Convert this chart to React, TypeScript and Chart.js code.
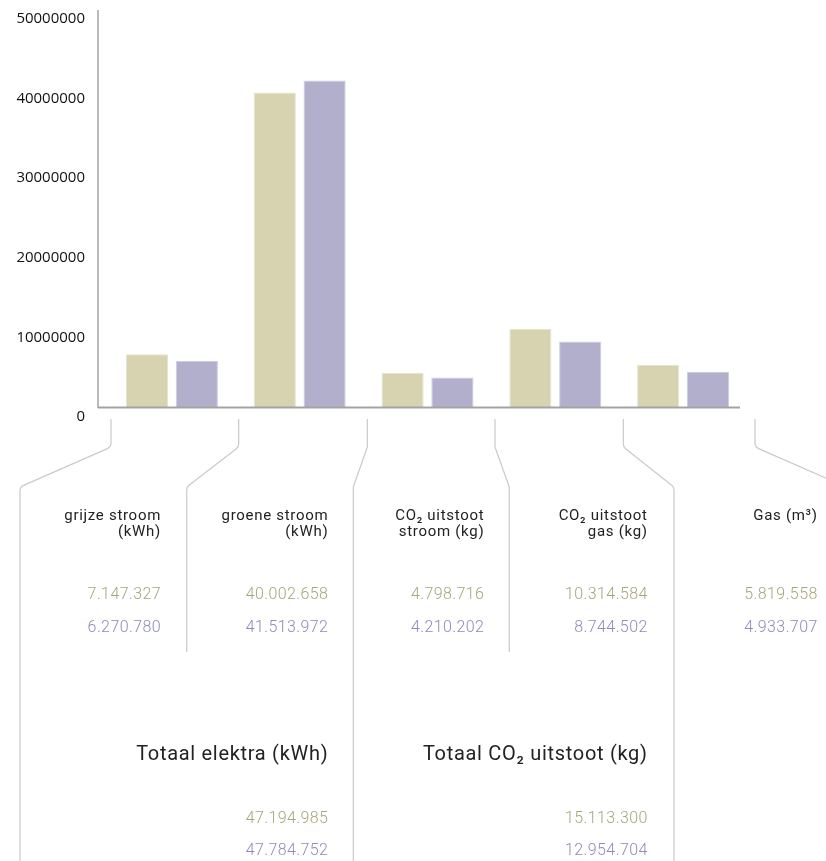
import React, { useEffect, useRef } from "react";
import { Chart, registerables } from "chart.js";

Chart.register(...registerables);

// ---- data ----
const categories = ["grijze stroom (kWh)", "groene stroom (kWh)", "CO₂ uitstoot stroom (kg)", "CO₂ uitstoot gas (kg)", "Gas (m³)"];
const categoryLines = [
  ["grijze stroom", "(kWh)"],
  ["groene stroom", "(kWh)"],
  ["CO₂ uitstoot", "stroom (kg)"],
  ["CO₂ uitstoot", "gas (kg)"],
  ["Gas (m³)"],
];
const seriesGold = [7147327, 40002658, 4798716, 10314584, 5819558];
const seriesPurple = [6270780, 41513972, 4210202, 8744502, 4933707];
const yTicks = [0, 10000000, 20000000, 30000000, 40000000, 50000000];
const totalLabels = ["Totaal elektra (kWh)", "Totaal CO₂ uitstoot (kg)"];
const totalsGold = [47194985, 15113300];
const totalsPurple = [47784752, 12954704];

// ---- styles ----
const GOLD = "#d7d3b0";
const PURPLE = "#b1afcc";
const GOLD_TEXT = "#a7a67a";
const PURPLE_TEXT = "#8d8bbb";
const W = 826;
const H = 861;

const fmt = (n: number) => String(n).replace(/\B(?=(\d{3})+(?!\d))/g, ".");

// connector polylines (decorative layout)
const connectors: { top: number; bottom: number; end: number }[] = [
  { top: 111, bottom: 20, end: 861 },
  { top: 238.7, bottom: 186.7, end: 652 },
  { top: 367.3, bottom: 353.3, end: 861 },
  { top: 495, bottom: 509.3, end: 652 },
  { top: 623.3, bottom: 674, end: 861 },
  { top: 755, bottom: 846, end: 861 },
];
const colRight = [161, 328.3, 484.3, 647.7, 817.7];
const totalRight = [328.3, 647.7];

const decorPlugin = {
  id: "decor",
  afterDraw(chart: any) {
    const ctx = chart.ctx as CanvasRenderingContext2D;
    const a = chart.chartArea;
    ctx.save();
    // axes
    ctx.strokeStyle = "#a3a3a3";
    ctx.lineWidth = 1.5;
    const ax = a.left - 10;
    ctx.beginPath();
    ctx.moveTo(ax, 10);
    ctx.lineTo(ax, a.bottom);
    ctx.stroke();
    ctx.lineWidth = 2;
    ctx.beginPath();
    ctx.moveTo(ax, a.bottom - 0.5);
    ctx.lineTo(a.right - 7, a.bottom - 0.5);
    ctx.stroke();
    // connectors
    ctx.strokeStyle = "#cacaca";
    ctx.lineWidth = 1.2;
    ctx.lineJoin = "round";
    const y0 = a.bottom + 11;
    const y1 = 447;
    const y2 = 487;
    for (const c of connectors) {
      ctx.beginPath();
      ctx.moveTo(c.top, y0);
      ctx.arcTo(c.top, y1, c.bottom, y2, 6);
      ctx.arcTo(c.bottom, y2, c.bottom, c.end, 6);
      ctx.lineTo(c.bottom, c.end);
      ctx.stroke();
    }
    ctx.restore();
  },
};

export default function App() {
  const ref = useRef<HTMLCanvasElement | null>(null);
  useEffect(() => {
    if (!ref.current) return;
    const chart = new Chart(ref.current, {
      type: "bar",
      data: {
        labels: categories,
        datasets: [
          {
            label: "2011",
            data: seriesGold,
            backgroundColor: GOLD,
            borderColor: "#e6e4cf",
            borderWidth: 1,
            barPercentage: 0.846,
            categoryPercentage: 0.78,
          },
          {
            label: "2012",
            data: seriesPurple,
            backgroundColor: PURPLE,
            borderColor: "#cdcbe0",
            borderWidth: 1,
            barPercentage: 0.846,
            categoryPercentage: 0.78,
          },
        ],
      },
      options: {
        responsive: false,
        animation: false,
        devicePixelRatio: 1,
        layout: { padding: { left: 0, right: 79, top: 13, bottom: 453 } },
        plugins: { legend: { display: false }, tooltip: { enabled: false } },
        scales: {
          x: { display: false },
          y: {
            min: 380000,
            max: 50000000,
            afterFit: (s: any) => {
              s.width = 108;
              s.paddingTop = 0;
              s.paddingBottom = 0;
            },
            afterBuildTicks: (s: any) => {
              s.ticks = yTicks.map((v) => ({ value: v }));
            },
            grid: { display: false, drawTicks: false },
            border: { display: false },
            ticks: {
              padding: 23,
              labelOffset: 6,
              color: "#111",
              font: { family: "'Open Sans'", size: 15 },
              callback: (v: any) => String(v),
            },
          },
        },
      },
      plugins: [decorPlugin],
    });
    return () => chart.destroy();
  }, []);

  const headFont: React.CSSProperties = {
    fontFamily: "Roboto, sans-serif",
    fontSize: 15,
    letterSpacing: "0.7px",
    lineHeight: "16px",
    color: "#222",
  };
  const numFont: React.CSSProperties = {
    fontFamily: "Roboto, sans-serif",
    fontWeight: 300,
    fontSize: 16,
    letterSpacing: "0.4px",
    lineHeight: "20px",
  };

  return (
    <div style={{ position: "absolute", left: 0, top: 0, width: W, height: H, overflow: "hidden", background: "#fff" }}>
      <canvas ref={ref} width={W} height={H} style={{ position: "absolute", left: 0, top: 0 }} />
      {categoryLines.map((lines, i) => (
        <div key={"h" + i} style={{ position: "absolute", right: W - colRight[i], top: 507, textAlign: "right", whiteSpace: "nowrap", ...headFont }}>
          {lines.map((l, j) => (
            <div key={j}>{l}</div>
          ))}
        </div>
      ))}
      {seriesGold.map((v, i) => (
        <div key={"g" + i} style={{ position: "absolute", right: W - colRight[i], top: 584, textAlign: "right", color: GOLD_TEXT, ...numFont }}>
          {fmt(v)}
        </div>
      ))}
      {seriesPurple.map((v, i) => (
        <div key={"p" + i} style={{ position: "absolute", right: W - colRight[i], top: 617, textAlign: "right", color: PURPLE_TEXT, ...numFont }}>
          {fmt(v)}
        </div>
      ))}
      {totalLabels.map((l, i) => (
        <div key={"t" + i} style={{ position: "absolute", right: W - totalRight[i], top: 740, textAlign: "right", whiteSpace: "nowrap", fontFamily: "Roboto, sans-serif", fontSize: 20, letterSpacing: "0.7px", lineHeight: "26px", color: "#222" }}>
          {l}
        </div>
      ))}
      {totalsGold.map((v, i) => (
        <div key={"tg" + i} style={{ position: "absolute", right: W - totalRight[i], top: 808, textAlign: "right", color: GOLD_TEXT, ...numFont }}>
          {fmt(v)}
        </div>
      ))}
      {totalsPurple.map((v, i) => (
        <div key={"tp" + i} style={{ position: "absolute", right: W - totalRight[i], top: 840, textAlign: "right", color: PURPLE_TEXT, ...numFont }}>
          {fmt(v)}
        </div>
      ))}
    </div>
  );
}
